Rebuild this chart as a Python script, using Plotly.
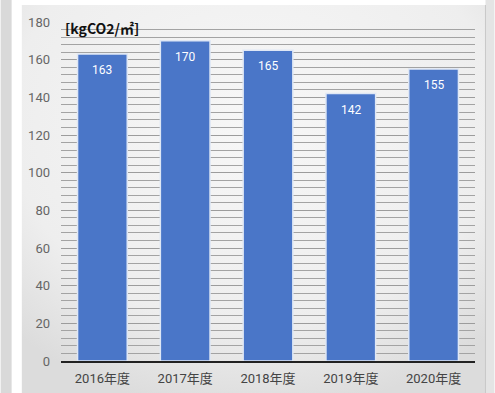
import base64
import plotly.graph_objects as go

# Annual CO2 emission intensity per floor area
years = ["2016年度", "2017年度", "2018年度", "2019年度", "2020年度"]
intensity = [163, 170, 165, 142, 155]
unit_label = "[kgCO2/㎡]"

NARROW = "Roboto, Noto Sans CJK JP, sans-serif"

# soft grey panel with a lighter centre
panel_svg = """<svg xmlns='http://www.w3.org/2000/svg' width='465' height='388' preserveAspectRatio='none'>
<defs><radialGradient id='g' cx='50%' cy='30%' r='75%'>
<stop offset='0%' stop-color='#f7f7f7'/><stop offset='70%' stop-color='#eeeeee'/>
<stop offset='100%' stop-color='#dcdcdc'/></radialGradient></defs>
<rect width='465' height='388' fill='url(#g)'/></svg>"""
panel_uri = "data:image/svg+xml;base64," + base64.b64encode(panel_svg.encode()).decode()

fig = go.Figure()
fig.add_trace(go.Bar(
    x=years, y=intensity,
    marker=dict(color="#4a76c8", line=dict(color="#dfe7f5", width=1.5)),
    width=0.6,
    hoverinfo="x+y",
))

for yr, v in zip(years, intensity):
    fig.add_annotation(x=yr, y=v, text=str(v), showarrow=False, yanchor="middle",
                       yshift=-16, font=dict(family=NARROW, size=12, color="white"))

fig.add_annotation(xref="paper", yref="paper", x=0.004, y=0.982, xanchor="left",
                   yanchor="middle", text=unit_label, showarrow=False,
                   font=dict(family="Noto Sans CJK JP", size=14, color="#111111", weight=600))

L, R, T, B = 60.5, 19.5, 22, 32
W, H = 495, 393
pw, ph = W - L - R, H - T - B


def px_x(p):
    return (p - L) / pw


def px_y(p):
    return (H - B - p) / ph


shapes = [
    # left grey strip
    dict(type="rect", xref="paper", yref="paper", x0=px_x(0), x1=px_x(11),
         y0=px_y(H), y1=px_y(0), fillcolor="#d9d9d9", line_width=0, layer="below"),
    # right edge strip
    dict(type="rect", xref="paper", yref="paper", x0=px_x(486), x1=px_x(W),
         y0=px_y(H), y1=px_y(0), fillcolor="#e4e4e4", line_width=0, layer="below"),
    dict(type="line", xref="paper", yref="paper", x0=px_x(486), x1=px_x(486),
         y0=px_y(H), y1=px_y(5), line=dict(color="#c8c8c8", width=1), layer="below"),
]

fig.update_layout(
    width=W, height=H,
    margin=dict(l=L, r=R, t=T, b=B, pad=0, autoexpand=False),
    paper_bgcolor="white",
    plot_bgcolor="rgba(0,0,0,0)",
    showlegend=False,
    bargap=0.42,
    shapes=shapes,
    images=[dict(source=panel_uri, xref="paper", yref="paper", x=px_x(21), y=px_y(5),
                 sizex=px_x(486) - px_x(21), sizey=px_y(5) - px_y(H),
                 xanchor="left", yanchor="top", sizing="stretch", layer="below")],
    xaxis=dict(
        showgrid=False, showline=True, linecolor="#222222", linewidth=2,
        ticks="", ticklabelstandoff=4, automargin=False,
        tickfont=dict(family=NARROW, size=13, color="#444444"),
        range=[-0.5, 4.5], fixedrange=True,
    ),
    yaxis=dict(
        range=[0, 180], dtick=20, tick0=0,
        showgrid=True, gridcolor="#9c9c9c", gridwidth=1,
        zeroline=False, showline=False, ticks="",
        ticklabelstandoff=10, automargin=False,
        tickfont=dict(family=NARROW, size=13, color="#666666"),
        minor=dict(dtick=4, showgrid=True, gridcolor="#a3a3a3", gridwidth=1),
        fixedrange=True,
    ),
)

fig.write_html("out.html")
